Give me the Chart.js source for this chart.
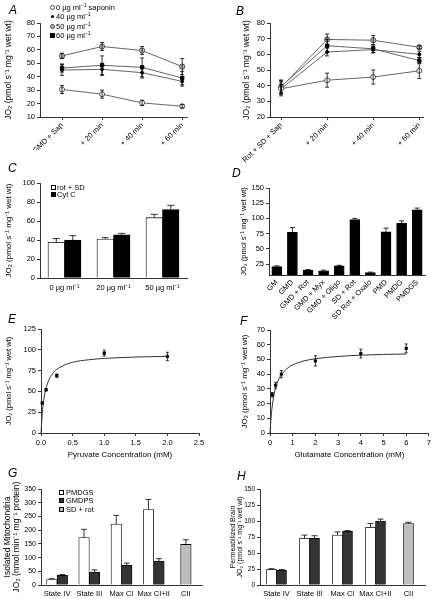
<!DOCTYPE html>
<html>
<head>
<meta charset="utf-8">
<script src="https://cdn.jsdelivr.net/npm/chart.js@4.4.0/dist/chart.umd.min.js"></script>
<style>
  body { margin: 0; width: 433px; height: 599px; overflow: hidden; background: #fff; position: relative;
         font-family: "Liberation Sans", Arial, sans-serif; color: #000; }
  canvas { position: absolute; }
  .tag { position: absolute; font-style: italic; font-size: 12px; line-height: 12px; }
  .leg { position: absolute; font-size: 7.5px; line-height: 9px; white-space: nowrap; }
  .leg sup { font-size: 5px; vertical-align: 3px; line-height: 0; }
  .mk { position: absolute; box-sizing: border-box; }
</style>
</head>
<body>
<canvas id="cA"></canvas>
<canvas id="cB"></canvas>
<canvas id="cC"></canvas>
<canvas id="cD"></canvas>
<canvas id="cE"></canvas>
<canvas id="cF"></canvas>
<canvas id="cG"></canvas>
<canvas id="cH"></canvas>

<div class="tag" style="left:9px;top:4px">A</div>
<div class="tag" style="left:236px;top:5px">B</div>
<div class="tag" style="left:8px;top:162px">C</div>
<div class="tag" style="left:232px;top:167px">D</div>
<div class="tag" style="left:8px;top:313px">E</div>
<div class="tag" style="left:240px;top:315px">F</div>
<div class="tag" style="left:8px;top:467px">G</div>
<div class="tag" style="left:237px;top:470px">H</div>

<!-- legend A -->
<div class="mk" style="left:50px;top:5px;width:5px;height:5px;border:1px solid #444;border-radius:50%;background:#fff"></div>
<div class="mk" style="left:51px;top:15px;width:3px;height:3px;border-radius:50%;background:#000"></div>
<div class="mk" style="left:50px;top:24px;width:5px;height:5px;border:1px solid #444;border-radius:50%;background:#bbb"></div>
<div class="mk" style="left:50px;top:33px;width:5px;height:5px;background:#000"></div>
<div class="leg" style="left:56px;top:3px">0 µg ml<sup>−1</sup> saponin</div>
<div class="leg" style="left:56px;top:12px">40 µg ml<sup>−1</sup></div>
<div class="leg" style="left:56px;top:22px">50 µg ml<sup>−1</sup></div>
<div class="leg" style="left:56px;top:31px">60 µg ml<sup>−1</sup></div>

<!-- legend C -->
<div class="mk" style="left:51px;top:185px;width:5px;height:5px;border:0.8px solid #000;background:#fff"></div>
<div class="mk" style="left:51px;top:192px;width:5px;height:5px;background:#000"></div>
<div class="leg" style="left:57px;top:183px">rot + SD</div>
<div class="leg" style="left:57px;top:190px">Cyt C</div>

<!-- legend G -->
<div class="mk" style="left:59px;top:490px;width:5px;height:5px;border:0.8px solid #000;background:#fff"></div>
<div class="mk" style="left:59px;top:498px;width:5px;height:5px;border:0.8px solid #000;background:#333"></div>
<div class="mk" style="left:59px;top:507px;width:5px;height:5px;border:0.8px solid #000;background:#bdbdbd"></div>
<div class="leg" style="left:66px;top:488px">PMDGS</div>
<div class="leg" style="left:66px;top:496px">GMDPS</div>
<div class="leg" style="left:66px;top:505px">SD + rot</div>

<script>
// ---------- data ----------
const timeLabelsA = ['GMD + Sap', '+ 20 min', '+ 40 min', '+ 60 min'];
const timeLabelsB = ['Rot + SD + Sap', '+ 20 min', '+ 40 min', '+ 60 min'];
const saponinLabels = ['0 µg ml⁻¹ saponin', '40 µg ml⁻¹', '50 µg ml⁻¹', '60 µg ml⁻¹'];

// A: GMD, JO2 over time
const a0 = [30.5, 27, 20.5, 18];      const a0Err = [3, 3, 2, 1.2];
const a40 = [45, 45.5, 43, 36.5];     const a40Err = [4, 4.5, 4, 3.5];
const a50 = [55.5, 62.5, 59.5, 47.5]; const a50Err = [2, 3, 3, 6];
const a60 = [46.5, 48.5, 47, 39];     const a60Err = [3, 7, 7, 5];
const aTicks = [10, 20, 30, 40, 50, 60, 70, 80];

// B: Rot + SD, JO2 over time
const b0 = [38, 43.5, 45.5, 49.5];    const b0Err = [4.5, 4.5, 4.5, 5];
const b40 = [38, 61.5, 63, 60];       const b40Err = [3, 2.5, 2, 2];
const b50 = [39, 69.5, 69, 64.5];     const b50Err = [4.5, 3.5, 3, 1];
const b60 = [39.5, 65.5, 63.5, 56];   const b60Err = [4, 4, 2.5, 2];
const bTicks = [20, 30, 40, 50, 60, 70, 80];

// C
const cLabels = ['0 µg ml⁻¹', '20 µg ml⁻¹', '50 µg ml⁻¹'];
const cRotSD = [37.5, 41, 63.5];      const cRotSDErr = [4, 1.5, 3.5];
const cCytC = [40, 45.5, 72];         const cCytCErr = [4.5, 1.5, 4.5];
const cTicks = [0, 20, 40, 60, 80, 100];

// D
const dLabels = ['GM', 'GMD', 'GMD + Rot', 'GMD + Myx', 'GMD + Oligo', 'SD + Rot', 'SD Rot + Oxalo', 'PMD', 'PMDG', 'PMDGS'];
const dRate = [21, 77, 15, 14, 22, 98, 11, 78, 92, 114];
const dErr = [1, 8, 1, 1, 1, 2, 0.8, 6, 4, 3];
const dTicks = [25, 50, 75, 100, 125, 150];

// E: pyruvate
const ePyruvate = [0.02, 0.08, 0.25, 1.0, 2.0];
const eRate = [36, 52, 69, 96, 92];
const eErr = [1.5, 1.5, 2, 3.5, 5];
const eFitX = [0, 0.02, 0.05, 0.1, 0.2, 0.3, 0.5, 0.75, 1.0, 1.5, 2.0];
const eFitY = [0, 24, 43, 59, 73, 79, 85, 88, 89.6, 91.3, 92.2];
const eTicksX = [0, 0.5, 1, 1.5, 2, 2.5];
const eTicksY = [0, 25, 50, 75, 100, 125];

// F: glutamate
const fGlutamate = [0.1, 0.25, 0.5, 2, 4, 6];
const fRate = [26, 32.5, 40, 49, 54, 57.5];
const fErr = [1.5, 2, 2.5, 3.5, 3, 3];
const fFitX = [0, 0.05, 0.1, 0.2, 0.35, 0.5, 0.75, 1, 1.5, 2, 3, 4, 5, 6];
const fFitY = [0, 11, 18.5, 27.8, 35.3, 39.6, 43.8, 46.3, 49, 50.5, 52, 52.9, 53.4, 53.7];
const fTicksX = [0, 1, 2, 3, 4, 5, 6, 7];
const fTicksY = [0, 10, 20, 30, 40, 50, 60, 70];

// G / H
const stateLabels = ['State IV', 'State III', 'Max CI', 'Max CI+II', 'CII'];
const gPMDGS = [20, 173, 222, 275, null];  const gPMDGSErr = [3, 30, 32, 37, null];
const gGMDPS = [35, 47, 72, 87, null];     const gGMDPSErr = [3, 8, 8, 9, null];
const gSDRot = [null, null, null, null, 148]; const gSDRotErr = [null, null, null, null, 17];
const gTicks = [0, 50, 100, 150, 200, 250, 300, 350];
const hPMDGS = [24.5, 73, 78, 90, null];   const hPMDGSErr = [1, 5, 5, 6, null];
const hGMDPS = [23.5, 73, 84, 100, null];  const hGMDPSErr = [0.5, 4, 1, 3, null];
const hSDRot = [null, null, null, null, 96]; const hSDRotErr = [null, null, null, null, 2];
const hTicks = [0, 25, 50, 75, 100, 125, 150];

// ---------- setup ----------
const ink = '#000';
Chart.defaults.font.family = "'Liberation Sans', Arial, sans-serif";
Chart.defaults.font.size = 7.5;
Chart.defaults.color = ink;
Chart.defaults.animation = false;
Chart.defaults.plugins.legend.display = false;
Chart.defaults.plugins.tooltip.enabled = false;

const jo2Title = 'JO₂ (pmol s⁻¹ mg⁻¹ wet wt)';

// error bars from ds.errors; bars get upward whiskers only
const errorBars = {
  id: 'errorBars',
  afterDatasetsDraw(chart) {
    const ctx = chart.ctx;
    chart.data.datasets.forEach((ds, i) => {
      if (!ds.errors) return;
      const meta = chart.getDatasetMeta(i);
      const ys = chart.scales[meta.yAxisID];
      ctx.save();
      ctx.strokeStyle = ink;
      ctx.lineWidth = 0.8;
      meta.data.forEach((el, j) => {
        const raw = ds.data[j];
        const v = raw !== null && typeof raw === 'object' ? raw.y : raw;
        const e = ds.errors[j];
        if (v == null || e == null) return;
        const hi = ys.getPixelForValue(v + e);
        const lo = ds.upOnly ? el.y : ys.getPixelForValue(v - e);
        const w = ds.cap || 2;
        ctx.beginPath();
        ctx.moveTo(el.x, lo); ctx.lineTo(el.x, hi);
        ctx.moveTo(el.x - w, hi); ctx.lineTo(el.x + w, hi);
        if (!ds.upOnly) { ctx.moveTo(el.x - w, lo); ctx.lineTo(el.x + w, lo); }
        ctx.stroke();
      });
      ctx.restore();
    });
  }
};
Chart.register(errorBars);

// place canvas and work out paddings so the plot area lands where it should
function frame(id, box, plot) {
  const c = document.getElementById(id);
  c.width = box[2]; c.height = box[3];
  c.style.left = box[0] + 'px'; c.style.top = box[1] + 'px';
  return {
    ctx: c,
    padding: { top: plot[1] - box[1], right: box[0] + box[2] - plot[2], left: 0, bottom: 0 },
    yw: plot[0] - box[0],
    xh: box[1] + box[3] - plot[3]
  };
}

function yAxis(f, min, max, ticks, title, titlePad, titleSize, tickSize) {
  return {
    type: 'linear', min, max,
    grid: { drawOnChartArea: false, drawTicks: true, tickLength: 3, color: ink, lineWidth: 0.8 },
    border: { display: true, color: ink, width: 0.8 },
    ticks: { padding: 2, color: ink, font: { size: tickSize || 7.5 } },
    afterBuildTicks: s => { s.ticks = ticks.map(v => ({ value: v })); },
    title: { display: true, text: title, padding: { top: titlePad, bottom: 0 }, color: ink,
             font: { size: titleSize || 7.5, lineHeight: 1.1 } },
    afterFit: s => { s.width = f.yw; }
  };
}

function xLinear(f, min, max, ticks, fmt, extra) {
  return Object.assign({
    type: 'linear', min, max,
    grid: { drawOnChartArea: false, drawTicks: true, tickLength: 3, color: ink, lineWidth: 0.8 },
    border: { display: true, color: ink, width: 0.8 },
    ticks: { padding: 2, color: ink, autoSkip: false, callback: fmt },
    afterBuildTicks: s => { s.ticks = ticks.map(v => ({ value: v })); },
    afterFit: s => { s.height = f.xh; }
  }, extra || {});
}

function xCategory(f, extra) {
  return Object.assign({
    type: 'category',
    grid: { display: false, drawTicks: false },
    border: { display: true, color: ink, width: 0.8 },
    ticks: { padding: 4, color: ink, autoSkip: false, maxRotation: 0 },
    afterFit: s => { s.height = f.xh; }
  }, extra || {});
}

function timeSeries(vals, errs, style) {
  return Object.assign({
    data: vals.map((v, i) => ({ x: i, y: v })),
    errors: errs,
    borderColor: '#666', borderWidth: 1,
    pointBorderWidth: 0.9, clip: false
  }, style);
}
const st0 = { pointStyle: 'circle', pointRadius: 2.5, pointBackgroundColor: '#fff', pointBorderColor: '#444' };
const st40 = { pointStyle: 'circle', pointRadius: 1.5, pointBackgroundColor: '#000', pointBorderColor: '#000' };
const st50 = { pointStyle: 'circle', pointRadius: 2.6, pointBackgroundColor: '#bbb', pointBorderColor: '#444' };
const st60 = { pointStyle: 'rect', pointRadius: 2.4, pointBackgroundColor: '#000', pointBorderColor: '#000' };

// ---------- A ----------
const fA = frame('cA', [0, 0, 216, 150], [40, 23, 187, 117]);
new Chart(fA.ctx, {
  type: 'line',
  data: { datasets: [
    timeSeries(a0, a0Err, Object.assign({ label: saponinLabels[0] }, st0)),
    timeSeries(a40, a40Err, Object.assign({ label: saponinLabels[1] }, st40)),
    timeSeries(a50, a50Err, Object.assign({ label: saponinLabels[2] }, st50)),
    timeSeries(a60, a60Err, Object.assign({ label: saponinLabels[3] }, st60))
  ] },
  options: {
    responsive: false,
    layout: { padding: fA.padding, autoPadding: false },
    scales: {
      x: xLinear(fA, -0.55, 3.12, [0, 1, 2, 3], v => timeLabelsA[v],
        { ticks: { padding: 1, color: ink, autoSkip: false, minRotation: 45, maxRotation: 45, callback: v => timeLabelsA[v] } }),
      y: yAxis(fA, 10, 80, aTicks, jo2Title, 4, 8.5)
    }
  }
});

// ---------- B ----------
const fB = frame('cB', [216, 0, 217, 165], [270, 23, 423, 117]);
new Chart(fB.ctx, {
  type: 'line',
  data: { datasets: [
    timeSeries(b0, b0Err, Object.assign({ label: saponinLabels[0] }, st0)),
    timeSeries(b40, b40Err, Object.assign({ label: saponinLabels[1] }, st40)),
    timeSeries(b50, b50Err, Object.assign({ label: saponinLabels[2] }, st50)),
    timeSeries(b60, b60Err, Object.assign({ label: saponinLabels[3] }, st60))
  ] },
  options: {
    responsive: false,
    layout: { padding: fB.padding, autoPadding: false },
    scales: {
      x: xLinear(fB, -0.24, 3.08, [0, 1, 2, 3], v => timeLabelsB[v],
        { ticks: { padding: 1, color: ink, autoSkip: false, minRotation: 45, maxRotation: 45, callback: v => timeLabelsB[v] } }),
      y: yAxis(fB, 20, 80, bTicks, jo2Title, 26, 8.5)
    }
  }
});

// ---------- C ----------
const fC = frame('cC', [0, 150, 216, 150], [40, 183, 187, 278]);
new Chart(fC.ctx, {
  type: 'bar',
  data: { labels: cLabels, datasets: [
    { label: 'rot + SD', data: cRotSD, errors: cRotSDErr, upOnly: true, cap: 3.5,
      backgroundColor: '#fff', borderColor: ink, borderWidth: 0.8, barThickness: 16.5 },
    { label: 'Cyt C', data: cCytC, errors: cCytCErr, upOnly: true, cap: 3.5,
      backgroundColor: '#000', borderColor: ink, borderWidth: 0.8, barThickness: 16.5 }
  ] },
  options: {
    responsive: false,
    layout: { padding: fC.padding, autoPadding: false },
    scales: {
      x: xCategory(fC, { ticks: { padding: 5, color: ink, autoSkip: false, maxRotation: 0 } }),
      y: yAxis(fC, 0, 100, cTicks, jo2Title, 4, 8)
    }
  }
});

// ---------- D ----------
const fD = frame('cD', [216, 150, 217, 175], [269, 188, 425, 275]);
new Chart(fD.ctx, {
  type: 'bar',
  data: { labels: dLabels, datasets: [
    { data: dRate, errors: dErr, upOnly: true, cap: 2.5,
      backgroundColor: '#000', borderColor: ink, borderWidth: 0.8, barThickness: 10 }
  ] },
  options: {
    responsive: false,
    layout: { padding: fD.padding, autoPadding: false },
    scales: {
      x: xCategory(fD, { ticks: { padding: 3, color: ink, autoSkip: false, minRotation: 45, maxRotation: 45 } }),
      y: yAxis(fD, 7, 150, dTicks, jo2Title, 24)
    }
  }
});

// ---------- E ----------
const fE = frame('cE', [0, 300, 216, 160], [41, 329, 199, 433]);
new Chart(fE.ctx, {
  type: 'scatter',
  data: { datasets: [
    { data: eFitX.map((x, i) => ({ x, y: eFitY[i] })), showLine: true, pointRadius: 0,
      borderColor: '#333', borderWidth: 1, cubicInterpolationMode: 'monotone', clip: false },
    { data: ePyruvate.map((x, i) => ({ x, y: eRate[i] })), errors: eErr, cap: 1.5,
      pointStyle: 'rect', pointRadius: 1.6, backgroundColor: '#000', borderColor: '#000', clip: false }
  ] },
  options: {
    responsive: false,
    layout: { padding: fE.padding, autoPadding: false },
    scales: {
      x: xLinear(fE, 0, 2.5, eTicksX, v => v.toFixed(1),
        { title: { display: true, text: 'Pyruvate Concentration (mM)', color: ink, font: { size: 8 }, padding: { top: 0, bottom: 0 } } }),
      y: yAxis(fE, 0, 125, eTicksY, jo2Title, 5)
    }
  }
});

// ---------- F ----------
const fF = frame('cF', [216, 300, 217, 160], [270, 330, 429, 433]);
new Chart(fF.ctx, {
  type: 'scatter',
  data: { datasets: [
    { data: fFitX.map((x, i) => ({ x, y: fFitY[i] })), showLine: true, pointRadius: 0,
      borderColor: '#333', borderWidth: 1, cubicInterpolationMode: 'monotone', clip: false },
    { data: fGlutamate.map((x, i) => ({ x, y: fRate[i] })), errors: fErr, cap: 1.5,
      pointStyle: 'rect', pointRadius: 1.6, backgroundColor: '#000', borderColor: '#000', clip: false }
  ] },
  options: {
    responsive: false,
    layout: { padding: fF.padding, autoPadding: false },
    scales: {
      x: xLinear(fF, 0, 7, fTicksX, v => String(v),
        { title: { display: true, text: 'Glutamate Concentration (mM)', color: ink, font: { size: 8 }, padding: { top: 0, bottom: 0 } } }),
      y: yAxis(fF, 0, 70, fTicksY, jo2Title, 24, 8)
    }
  }
});

// ---------- G ----------
const fG = frame('cG', [0, 450, 216, 160], [41, 489, 202, 585]);
new Chart(fG.ctx, {
  type: 'bar',
  data: { labels: stateLabels, datasets: [
    { label: 'PMDGS', data: gPMDGS, errors: gPMDGSErr, upOnly: true, cap: 3,
      backgroundColor: '#fff', borderColor: ink, borderWidth: 0.8, barThickness: 10.5 },
    { label: 'GMDPS', data: gGMDPS, errors: gGMDPSErr, upOnly: true, cap: 3,
      backgroundColor: '#333', borderColor: ink, borderWidth: 0.8, barThickness: 10.5 },
    { label: 'SD + rot', data: gSDRot, errors: gSDRotErr, upOnly: true, cap: 3,
      backgroundColor: '#bdbdbd', borderColor: ink, borderWidth: 0.8, barThickness: 10.5 }
  ] },
  options: {
    responsive: false,
    skipNull: true,
    layout: { padding: fG.padding, autoPadding: false },
    scales: {
      x: xCategory(fG, { ticks: { padding: 4, color: ink, autoSkip: false, maxRotation: 0, minRotation: 0 } }),
      y: yAxis(fG, 0, 350, gTicks, ['Isolated Mitochondria', 'JO₂ (nmol min⁻¹ mg⁻¹ protein)'], 3, 8.5, 7)
    }
  }
});

// ---------- H ----------
const fH = frame('cH', [216, 450, 217, 160], [260, 489, 425, 585]);
new Chart(fH.ctx, {
  type: 'bar',
  data: { labels: stateLabels, datasets: [
    { label: 'PMDGS', data: hPMDGS, errors: hPMDGSErr, upOnly: true, cap: 3,
      backgroundColor: '#fff', borderColor: ink, borderWidth: 0.8, barThickness: 10 },
    { label: 'GMDPS', data: hGMDPS, errors: hGMDPSErr, upOnly: true, cap: 3,
      backgroundColor: '#333', borderColor: ink, borderWidth: 0.8, barThickness: 10 },
    { label: 'SD + rot', data: hSDRot, errors: hSDRotErr, upOnly: true, cap: 3,
      backgroundColor: '#bdbdbd', borderColor: ink, borderWidth: 0.8, barThickness: 10 }
  ] },
  options: {
    responsive: false,
    skipNull: true,
    layout: { padding: fH.padding, autoPadding: false },
    scales: {
      x: xCategory(fH, { ticks: { padding: 4, color: ink, autoSkip: false, maxRotation: 0, minRotation: 0 } }),
      y: yAxis(fH, 0, 150, hTicks, ['Permeabilized Brain', jo2Title], 13, 7, 6.5)
    }
  }
});
</script>
</body>
</html>
